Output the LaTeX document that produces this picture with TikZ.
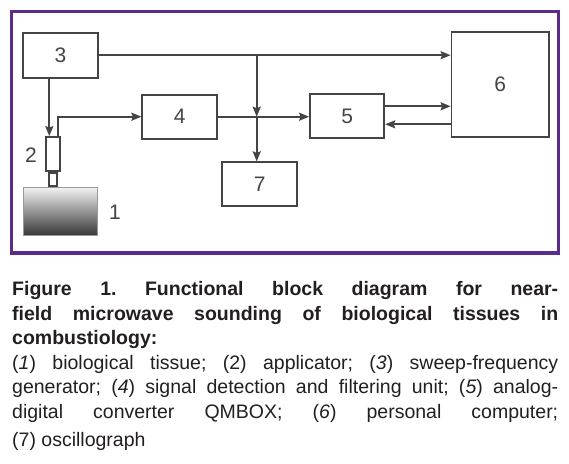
\documentclass[tikz,border=0pt]{standalone}
\usepackage{fontspec}
\setmainfont{Liberation Sans}
\usetikzlibrary{arrows.meta}
\definecolor{framec}{HTML}{5B2C8C}
\definecolor{lnc}{HTML}{444444}
\definecolor{txtc}{HTML}{231F20}
\frenchspacing
\begin{document}
\begin{tikzpicture}[x=1pt,y=-1pt,
  box/.style={draw=lnc, line width=1.8pt, fill=white, inner sep=0pt, text=lnc,
    font=\fontsize{21}{21}\selectfont},
  arr/.style={draw=lnc, line width=1.8pt, -{Stealth[length=10pt,width=8pt,inset=1.5pt]}},
  lbl/.style={font=\fontsize{21}{21}\selectfont, text=lnc, inner sep=0pt},
  capl/.style={anchor=base west, inner sep=0pt, text=txtc, font=\fontsize{19.5}{24.5}\selectfont}]
\useasboundingbox (0,0) rectangle (569,463);
\fill[white] (0,0) rectangle (569,463);
\draw[framec, line width=3.5pt] (11.5,11.5) rectangle (558.5,253);

\node[box, minimum width=74.4pt, minimum height=45pt] (b3) at (60.5,55.2) {3};
\node[box, minimum width=74.7pt, minimum height=44pt] (b4) at (179.65,116.7) {4};
\node[box, minimum width=74.3pt, minimum height=43.7pt] (b5) at (347.15,115.9) {5};
\node[box, minimum width=97.5pt, minimum height=105.1pt] (b6) at (500.25,84.75) {6};
\node[box, minimum width=74.7pt, minimum height=43.7pt] (b7) at (259.65,184.15) {7};
\node[draw=gray!80, line width=0.7pt, top color=gray!10, bottom color=black!78,
  minimum width=74pt, minimum height=47.7pt, inner sep=0pt] (tissue) at (60.3,211.15) {};
\node[draw=lnc, line width=1.8pt, fill=white, minimum width=14.3pt, minimum height=34pt,
  inner sep=0pt] (app) at (52.85,154) {};
\node[draw=lnc, line width=1.8pt, fill=white, minimum width=7.7pt, minimum height=13pt,
  inner sep=0pt, anchor=north] (apptip) at (app.south) {};
\node[lbl] (l2) at (31,155) {2};
\node[lbl] (l1) at (115,212) {1};

% connectors
\coordinate (T) at (256.7,55.2);
\coordinate (J) at (256.7,116.7);
\draw[arr] (b3.east) -- (b3.east -| b6.west);
\draw[arr] (T) -- (J);
\draw[arr] (J) -- (J |- b7.north);
\draw[arr] (b4.east) -- (b4.east -| b5.west);
\draw[arr] (b5.east |- 0,106.3) -- (b6.west |- 0,106.3);
\draw[arr] (b6.west |- 0,124.3) -- (b5.east |- 0,124.3);
\draw[arr] (b3.south -| 49.3,0) -- (app.north -| 49.3,0);
\draw[arr] (app.north -| 57.7,0) |- (b4.west);

% caption
\node[capl] (c1) at (12,295.5) {\makebox[546pt][s]{\bfseries Figure 1. Functional block diagram for near-}};
\node[capl] (c2) at (12,320) {\makebox[546pt][s]{\bfseries field microwave sounding of biological tissues in}};
\node[capl] (c3) at (12,344) {\bfseries combustiology:};
\node[capl] (c4) at (12,369) {\makebox[546pt][s]{(\textit{1}) biological tissue; (2) applicator; (\textit{3}) sweep-frequency}};
\node[capl] (c5) at (12,393.5) {\makebox[546pt][s]{generator; (\textit{4}) signal detection and filtering unit; (\textit{5}) analog-}};
\node[capl] (c6) at (12,418) {\makebox[546pt][s]{digital converter QMBOX; (\textit{6}) personal computer;}};
\node[capl] (c7) at (12,446) {(7) oscillograph};
\end{tikzpicture}
\end{document}
